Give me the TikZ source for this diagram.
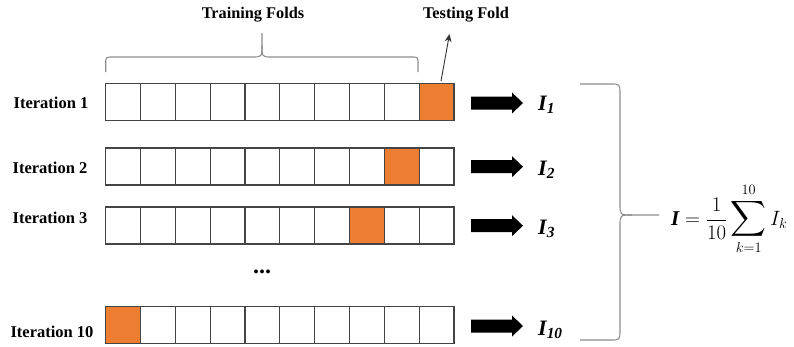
\documentclass[tikz,border=0pt]{standalone}
\usepackage{fontspec}
\setmainfont{Liberation Serif}
\usepackage{amsmath}
\usetikzlibrary{arrows.meta,calc}
\definecolor{foldorange}{HTML}{ED7D31}
\definecolor{cellline}{HTML}{444444}
\definecolor{bracegray}{HTML}{8C8C8C}
\tikzset{
  cellbox/.style={draw=cellline,line width=1.1pt,minimum width=34.83pt,minimum height=37pt,inner sep=0pt,outer sep=0pt,fill=white},
  testcell/.style={fill=foldorange},
  itlabel/.style={font=\fontsize{16.5}{18}\selectfont\bfseries,inner sep=0pt},
  toplabel/.style={font=\fontsize{16.3}{18}\selectfont\bfseries,inner sep=0pt},
  ilabel/.style={font=\fontsize{22}{24}\selectfont\bfseries\itshape,inner sep=0pt,anchor=base west},
  blockarrow/.style={fill=black},
  bracepath/.style={draw=bracegray,line width=1.1pt},
}
\newcommand{\blockarr}[2]{\fill[blockarrow] (#1,#2-6.5) -- (#1+41,#2-6.5) -- (#1+41,#2-10.5) -- (#1+52,#2) -- (#1+41,#2+10.5) -- (#1+41,#2+6.5) -- (#1,#2+6.5) -- cycle;}
\newcommand{\bigsumop}{\mathop{\text{\fontsize{29}{31}\selectfont$\displaystyle\sum$}}\limits}
\begin{document}
\begin{tikzpicture}[x=1pt,y=-1pt]
\useasboundingbox (0,0) rectangle (794,346);
% rows of cells
\foreach \r/\yc/\t in {1/102/10,2/166.5/9,3/225.5/8,10/325/1}{
  \foreach \c in {1,...,10}{
    \ifnum\c=\t
      \node[cellbox,testcell] (r\r c\c) at (105.7+34.83*\c-17.415,\yc) {};
    \else
      \node[cellbox] (r\r c\c) at (105.7+34.83*\c-17.415,\yc) {};
    \fi
  }
}
% iteration labels
\node[itlabel] (it1) at (51,103) {Iteration 1};
\node[itlabel] (it2) at (50,168) {Iteration 2};
\node[itlabel] (it3) at (50,218) {Iteration 3};
\node[itlabel] (it10) at (52,332) {Iteration 10};
% dots
\node[font=\fontsize{24}{26}\selectfont\bfseries,inner sep=0pt] (dots) at (262,272) {...};
% top labels
\node[toplabel] (train) at (253,15) {Training Folds};
\node[toplabel] (test) at (466,15) {Testing Fold};
% testing arrow
\coordinate (tastart) at (441,81);
\coordinate (taend) at (449.5,34);
\draw[line width=0.9pt,draw=black!80,-{Stealth[length=8pt,width=7pt]}] (tastart) -- (taend);
% top brace
\coordinate (bl) at (105.7,72);
\coordinate (br) at (418,72);
\coordinate (btip) at (262,33);
\draw[bracepath] (bl) -- (105.7,64) .. controls (105.7,57) .. (113,57) -- (252,57) .. controls (262,57) .. (262,45) -- (btip);
\draw[bracepath] (br) -- (418,64) .. controls (418,57) .. (411,57) -- (272,57) .. controls (262,57) .. (262,45);
% block arrows
\blockarr{471}{103}
\blockarr{471}{166.7}
\blockarr{471}{225.7}
\blockarr{471}{326}
% I labels
\node[ilabel] (i1) at (538,110) {I\textsubscript{1}};
\node[ilabel] (i2) at (538,175) {I\textsubscript{2}};
\node[ilabel] (i3) at (538,234) {I\textsubscript{3}};
\node[ilabel] (i10) at (538,335) {I\textsubscript{10}};
% right brace
\coordinate (rt) at (580,84);
\coordinate (rb) at (580,340);
\coordinate (rtip) at (659,215);
\draw[bracepath] (rt) -- (610,84) .. controls (620,84) .. (620,94) -- (620,204) .. controls (620,215) .. (632,215) -- (rtip);
\draw[bracepath] (rb) -- (610,340) .. controls (620,340) .. (620,330) -- (620,226) .. controls (620,215) .. (632,215);
% formula
\node[inner sep=0pt,anchor=west,font=\fontsize{21}{23}\selectfont] (formula) at (671,219) {$\text{\bfseries\itshape I} = \dfrac{1}{10}\bigsumop_{k=1}^{10} I_k$};
\end{tikzpicture}
\end{document}
